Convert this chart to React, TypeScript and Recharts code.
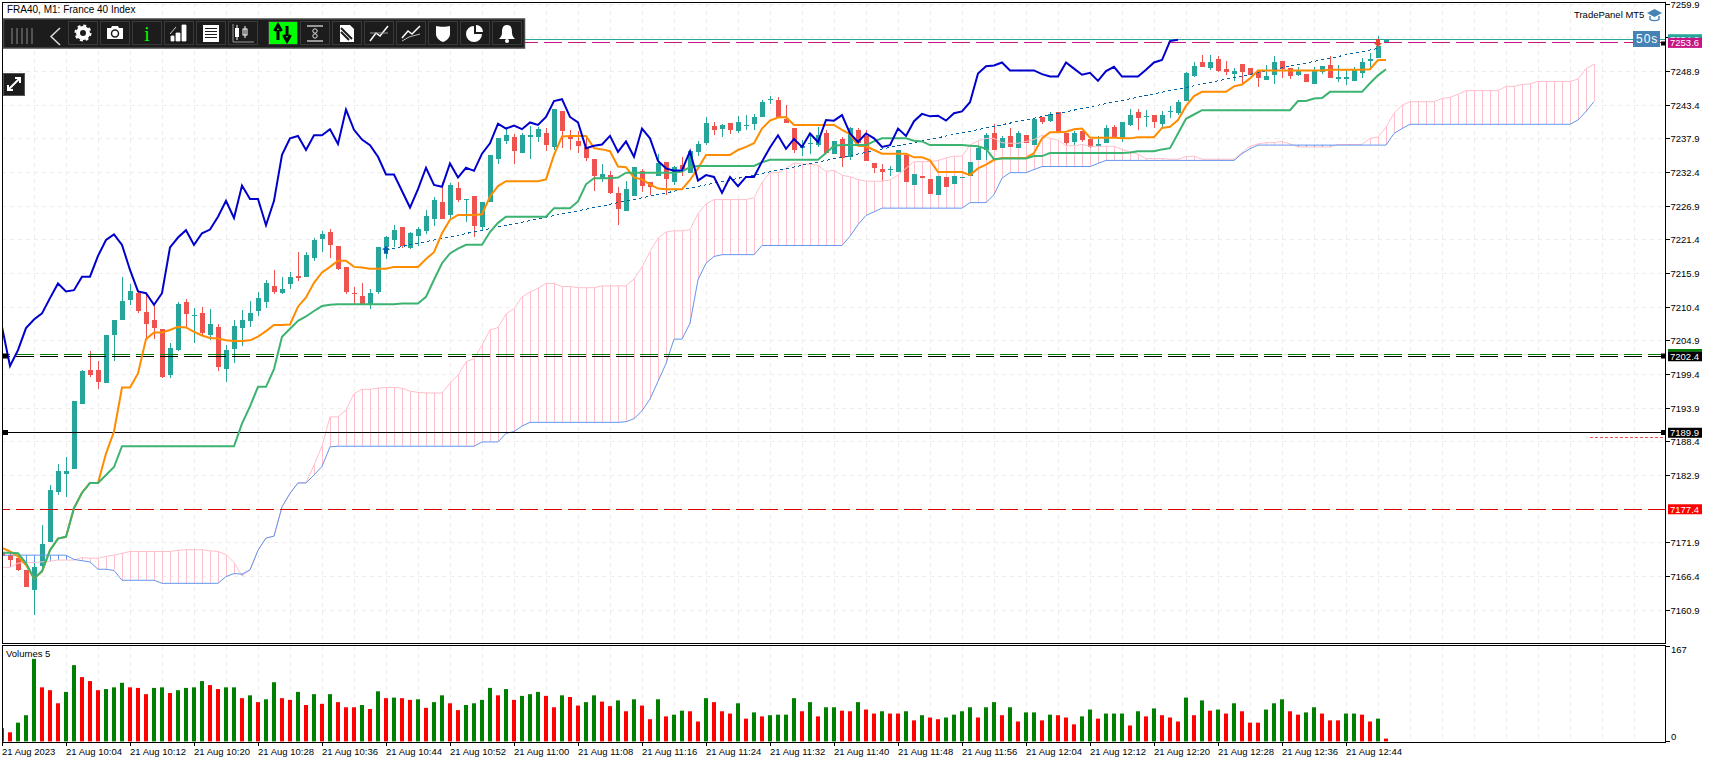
import React from "react";
import {
  Bar,
  CartesianGrid,
  Cell,
  ComposedChart,
  Line,
  ReferenceDot,
  ReferenceLine,
  XAxis,
  YAxis,
} from "recharts";

// candles, one per minute from 09:56
const opens = [
  7170.2, 7169.9, 7169.4, 7167.5, 7164.2, 7168.2, 7172.1, 7180.3, 7183.2, 7184.0,
  7194.6, 7200.1, 7200.1, 7198.0, 7205.9, 7208.3, 7211.6, 7212.8, 7209.6, 7208.3,
  7206.8, 7199.3, 7203.4, 7211.3, 7209.0, 7209.5, 7205.9, 7207.2, 7200.3, 7203.6,
  7207.0, 7208.2, 7209.8, 7211.3, 7213.9, 7212.7, 7214.2, 7215.5, 7215.4, 7218.5,
  7221.6, 7222.7, 7220.4, 7217.0, 7212.7, 7212.2, 7210.8, 7212.9, 7220.2, 7221.4,
  7223.5, 7220.1, 7222.0, 7222.9, 7224.8, 7227.6, 7225.5, 7229.9, 7227.9, 7228.6,
  7223.5, 7227.6, 7234.6, 7237.6, 7238.2, 7235.6, 7238.3, 7238.2, 7238.9, 7236.6,
  7242.5, 7238.3, 7237.6, 7236.6, 7234.6, 7231.5, 7232.0, 7229.1, 7226.1, 7228.6,
  7232.7, 7230.9, 7231.9, 7234.1, 7230.9, 7233.6, 7232.3, 7235.8, 7237.2, 7240.0,
  7239.5, 7240.5, 7239.2, 7240.0, 7240.3, 7241.5, 7244.2, 7244.3, 7241.2, 7239.7,
  7236.4, 7237.0, 7236.9, 7238.9, 7235.4, 7237.9, 7235.0, 7239.4, 7238.4, 7234.0,
  7233.0, 7232.9, 7232.5, 7235.3, 7230.4, 7231.9, 7231.4, 7228.8, 7231.7, 7230.6,
  7231.6, 7231.9, 7234.5, 7236.1, 7238.9, 7236.4, 7238.4, 7236.4, 7238.6, 7236.9,
  7241.5, 7240.9, 7242.3, 7238.9, 7237.4, 7239.2, 7237.9, 7236.8, 7237.3, 7239.9,
  7238.1, 7240.2, 7242.3, 7241.6, 7241.9, 7240.3, 7242.4, 7242.1, 7244.1, 7248.2,
  7250.4, 7249.5, 7250.9, 7249.3, 7248.5, 7250.1, 7249.5, 7249.0, 7247.5, 7248.3,
  7250.6, 7249.5, 7248.3, 7248.5, 7246.9, 7248.8, 7250.0, 7247.7, 7247.7, 7247.4,
  7248.7, 7250.6, 7251.1, 7253.6,
];
const closes = [
  7169.8, 7169.1, 7167.5, 7164.7, 7167.9, 7171.8, 7180.5, 7183.6, 7183.6, 7195.1,
  7200.0, 7199.4, 7198.2, 7205.9, 7208.4, 7211.4, 7213.1, 7209.8, 7207.7, 7207.0,
  7199.0, 7203.7, 7210.9, 7209.3, 7209.1, 7206.2, 7207.7, 7200.7, 7203.4, 7207.3,
  7208.4, 7209.5, 7211.9, 7214.4, 7212.9, 7213.4, 7215.4, 7215.2, 7218.9, 7221.4,
  7222.4, 7220.6, 7216.7, 7212.9, 7212.5, 7210.9, 7212.7, 7220.2, 7221.9, 7223.0,
  7220.4, 7222.5, 7223.2, 7225.3, 7227.9, 7224.8, 7230.4, 7227.9, 7228.1, 7223.7,
  7227.6, 7235.3, 7238.1, 7238.6, 7235.9, 7238.6, 7238.6, 7239.5, 7236.9, 7242.8,
  7239.2, 7237.9, 7236.8, 7234.8, 7231.9, 7232.2, 7229.1, 7226.5, 7229.7, 7233.3,
  7230.2, 7230.1, 7234.0, 7231.4, 7233.3, 7233.0, 7235.9, 7237.1, 7240.5, 7239.4,
  7240.2, 7239.4, 7240.7, 7240.2, 7241.5, 7243.9, 7244.4, 7241.5, 7240.5, 7236.1,
  7236.8, 7237.2, 7238.6, 7235.6, 7237.6, 7234.8, 7239.7, 7237.3, 7234.3, 7233.2,
  7232.5, 7233.0, 7236.1, 7230.9, 7232.2, 7231.6, 7228.9, 7231.9, 7230.1, 7231.9,
  7231.7, 7234.2, 7236.4, 7238.6, 7236.1, 7238.1, 7236.6, 7238.9, 7237.3, 7241.2,
  7240.7, 7242.0, 7238.9, 7237.3, 7238.9, 7237.7, 7236.6, 7237.1, 7239.7, 7238.1,
  7240.7, 7241.9, 7241.3, 7241.7, 7240.7, 7241.9, 7242.5, 7243.9, 7248.6, 7249.8,
  7249.6, 7250.4, 7249.0, 7248.8, 7249.0, 7248.8, 7248.3, 7247.8, 7248.2, 7250.4,
  7249.3, 7248.2, 7249.0, 7247.2, 7249.0, 7249.8, 7247.8, 7248.0, 7248.0, 7249.2,
  7250.4, 7250.9, 7253.1, 7254.2,
];
const highs = [
  7170.6, 7170.2, 7169.8, 7167.5, 7168.6, 7174.8, 7181.4, 7184.8, 7186.0, 7195.1,
  7200.1, 7203.3, 7201.6, 7205.9, 7208.4, 7215.3, 7214.2, 7213.2, 7212.7, 7210.8,
  7206.8, 7204.5, 7211.2, 7211.8, 7210.3, 7210.4, 7210.1, 7207.7, 7204.2, 7208.4,
  7210.0, 7211.5, 7212.9, 7214.9, 7216.5, 7215.4, 7216.2, 7219.4, 7219.5, 7221.7,
  7222.9, 7223.2, 7220.4, 7217.0, 7213.7, 7214.4, 7213.4, 7220.2, 7222.0, 7223.9,
  7223.5, 7222.7, 7223.5, 7226.3, 7228.4, 7230.9, 7230.7, 7230.9, 7228.1, 7228.6,
  7227.6, 7235.3, 7238.1, 7239.9, 7238.7, 7238.8, 7240.0, 7239.8, 7239.7, 7242.8,
  7242.5, 7239.4, 7239.2, 7238.3, 7234.6, 7233.8, 7232.7, 7230.1, 7231.0, 7233.3,
  7233.0, 7230.9, 7235.4, 7234.1, 7233.5, 7235.0, 7236.1, 7237.6, 7241.5, 7240.6,
  7240.3, 7240.5, 7241.7, 7241.8, 7242.0, 7244.3, 7244.9, 7244.8, 7243.4, 7239.7,
  7237.7, 7238.8, 7239.9, 7239.4, 7237.6, 7238.2, 7239.9, 7239.7, 7239.4, 7234.0,
  7233.8, 7233.5, 7236.1, 7235.3, 7232.2, 7231.9, 7231.4, 7231.9, 7231.7, 7231.9,
  7231.7, 7234.2, 7236.7, 7238.9, 7240.4, 7238.4, 7239.7, 7239.2, 7238.6, 7241.3,
  7241.5, 7242.3, 7242.3, 7238.9, 7239.2, 7239.2, 7237.9, 7238.4, 7240.2, 7240.2,
  7240.7, 7242.8, 7242.8, 7242.6, 7241.9, 7242.4, 7243.3, 7244.2, 7248.8, 7250.4,
  7251.6, 7251.6, 7251.4, 7250.6, 7249.5, 7250.1, 7249.5, 7249.2, 7250.0, 7251.4,
  7250.6, 7249.5, 7249.7, 7248.5, 7249.7, 7249.8, 7251.4, 7250.0, 7249.2, 7249.7,
  7251.1, 7251.9, 7254.7, 7254.2,
];
const lows = [
  7169.4, 7168.0, 7167.3, 7164.7, 7160.1, 7167.2, 7172.1, 7179.7, 7179.5, 7184.0,
  7194.6, 7199.1, 7197.0, 7198.0, 7201.7, 7208.3, 7210.8, 7209.5, 7205.1, 7205.3,
  7198.8, 7198.8, 7203.2, 7207.0, 7204.6, 7205.6, 7205.0, 7200.0, 7198.1, 7201.4,
  7204.1, 7207.3, 7209.0, 7210.4, 7212.5, 7212.7, 7213.4, 7214.7, 7215.4, 7218.0,
  7219.4, 7218.5, 7216.4, 7212.6, 7210.9, 7210.9, 7210.1, 7212.6, 7218.3, 7220.3,
  7220.0, 7220.0, 7220.4, 7222.4, 7223.7, 7224.8, 7224.7, 7227.7, 7224.3, 7221.9,
  7222.9, 7227.6, 7233.8, 7237.1, 7233.8, 7235.6, 7234.6, 7237.4, 7235.9, 7236.1,
  7236.4, 7236.1, 7235.6, 7234.3, 7229.4, 7230.9, 7228.9, 7223.9, 7226.1, 7228.6,
  7229.2, 7228.7, 7231.9, 7228.7, 7230.4, 7231.9, 7232.3, 7235.1, 7236.9, 7238.4,
  7238.1, 7238.7, 7239.0, 7239.4, 7239.4, 7241.5, 7243.6, 7241.3, 7240.5, 7235.6,
  7235.1, 7235.4, 7236.6, 7235.6, 7235.4, 7233.3, 7234.5, 7237.1, 7234.3, 7232.4,
  7231.1, 7231.9, 7232.5, 7230.9, 7230.4, 7231.6, 7228.9, 7228.8, 7230.1, 7230.6,
  7231.5, 7231.9, 7234.5, 7234.5, 7236.1, 7236.4, 7236.6, 7236.4, 7237.3, 7236.9,
  7240.4, 7240.7, 7238.9, 7236.9, 7236.9, 7237.4, 7236.4, 7236.8, 7237.3, 7238.1,
  7237.4, 7240.0, 7239.3, 7239.8, 7239.8, 7239.8, 7241.3, 7241.8, 7244.1, 7248.0,
  7249.6, 7249.2, 7248.8, 7248.3, 7247.3, 7247.0, 7248.3, 7246.4, 7247.5, 7246.9,
  7247.8, 7247.7, 7248.3, 7247.2, 7246.9, 7248.5, 7247.8, 7247.2, 7246.7, 7247.4,
  7247.8, 7249.2, 7251.1, 7253.6,
];

// ichimoku lines
const tenkan = [
  7171.1, 7170.5, 7169.7, 7168.3, 7166.1, 7167.2, 7170.7, 7172.6, 7172.9, 7177.6,
  7180.1, 7181.7, 7181.7, 7186.5, 7190.1, 7197.3, 7197.3, 7199.6, 7205.2, 7206.3,
  7206.3, 7206.7, 7207.2, 7207.1, 7206.4, 7205.8, 7205.4, 7205.3, 7205.0, 7204.9,
  7204.9, 7205.0, 7205.6, 7206.5, 7207.5, 7207.5, 7207.6, 7210.5, 7212.0, 7214.4,
  7216.1, 7217.0, 7218.0, 7218.0, 7217.0, 7216.9, 7216.7, 7216.7, 7216.7, 7217.0,
  7217.0, 7217.0, 7217.0, 7218.3, 7219.4, 7222.5, 7224.7, 7225.5, 7225.5, 7225.5,
  7225.6, 7228.5, 7230.2, 7231.0, 7231.0, 7231.0, 7231.0, 7231.0, 7231.3, 7235.3,
  7238.3, 7238.4, 7238.4, 7238.4, 7236.4, 7236.2, 7235.9, 7233.4, 7233.3, 7231.6,
  7231.3, 7230.5, 7229.8, 7229.7, 7229.7, 7229.7, 7231.2, 7233.1, 7235.3, 7235.3,
  7235.3, 7235.3, 7236.1, 7236.6, 7237.2, 7239.6, 7240.9, 7241.4, 7241.5, 7240.2,
  7240.2, 7240.2, 7240.2, 7240.2, 7240.2, 7239.4, 7238.7, 7236.8, 7236.7, 7236.1,
  7235.5, 7235.5, 7235.5, 7235.5, 7234.9, 7234.9, 7234.4, 7232.5, 7232.5, 7232.5,
  7232.5, 7232.0, 7233.1, 7233.7, 7234.5, 7234.8, 7234.8, 7234.8, 7234.8, 7235.6,
  7238.0, 7239.0, 7239.0, 7239.1, 7239.5, 7239.6, 7238.1, 7238.1, 7238.1, 7238.1,
  7238.0, 7238.0, 7238.2, 7238.2, 7238.2, 7239.7, 7239.9, 7241.0, 7243.3, 7244.9,
  7245.6, 7245.6, 7245.6, 7245.6, 7246.5, 7246.8, 7247.8, 7249.1, 7249.1, 7249.1,
  7249.1, 7249.1, 7249.1, 7249.1, 7249.1, 7249.1, 7249.2, 7249.2, 7249.2, 7249.2,
  7249.2, 7249.3, 7250.8, 7250.8,
];
const kijun = [
  7170.3, 7170.3, 7170.2, 7168.6, 7166.1, 7167.3, 7170.7, 7172.6, 7172.9, 7177.6,
  7180.1, 7181.7, 7181.7, 7183.0, 7184.3, 7187.7, 7187.7, 7187.7, 7187.7, 7187.7,
  7187.7, 7187.7, 7187.7, 7187.7, 7187.7, 7187.7, 7187.7, 7187.7, 7187.7, 7187.7,
  7191.4, 7194.2, 7197.4, 7197.4, 7200.3, 7205.6, 7206.9, 7208.2, 7208.9, 7209.8,
  7210.6, 7210.8, 7210.9, 7210.9, 7210.9, 7210.9, 7210.9, 7210.9, 7210.9, 7210.9,
  7211.0, 7211.0, 7211.0, 7212.1, 7214.9, 7217.6, 7219.2, 7220.0, 7220.6, 7220.6,
  7220.6, 7222.7, 7224.2, 7225.2, 7225.2, 7225.2, 7225.2, 7225.2, 7225.2, 7226.6,
  7226.6, 7226.6, 7227.7, 7230.5, 7231.5, 7231.5, 7231.5, 7231.6, 7232.4, 7232.4,
  7232.4, 7232.4, 7232.4, 7232.4, 7232.4, 7232.6, 7233.3, 7233.5, 7233.5, 7233.5,
  7233.5, 7233.5, 7233.5, 7233.5, 7233.5, 7234.1, 7234.5, 7234.5, 7234.5, 7234.5,
  7234.5, 7234.5, 7234.5, 7235.6, 7236.8, 7236.9, 7236.9, 7236.9, 7236.9, 7237.5,
  7238.0, 7238.0, 7238.0, 7238.0, 7237.6, 7237.5, 7236.9, 7236.9, 7236.9, 7236.9,
  7236.9, 7236.8, 7236.7, 7236.3, 7234.6, 7234.7, 7234.7, 7234.7, 7234.7, 7235.1,
  7235.1, 7235.6, 7235.6, 7235.6, 7235.6, 7235.6, 7235.6, 7235.6, 7235.6, 7235.6,
  7235.6, 7235.7, 7235.9, 7235.9, 7235.9, 7236.2, 7236.4, 7238.8, 7241.2, 7241.9,
  7242.6, 7242.6, 7242.6, 7242.6, 7242.6, 7242.6, 7242.6, 7242.6, 7242.6, 7242.6,
  7242.6, 7242.6, 7244.1, 7244.1, 7244.5, 7244.6, 7245.6, 7245.6, 7245.6, 7245.6,
  7245.6, 7247.0, 7248.3, 7249.3,
];
const chikou = [
  7207.2, 7200.8, 7203.4, 7207.0, 7208.4, 7209.4, 7211.9, 7214.3, 7213.0, 7213.2,
  7215.4, 7215.4, 7218.8, 7221.4, 7222.3, 7220.6, 7216.5, 7213.0, 7212.7, 7210.8,
  7212.7, 7220.2, 7221.8, 7223.0, 7220.6, 7222.5, 7223.1, 7225.2, 7227.8, 7225.0,
  7230.3, 7228.1, 7228.1, 7223.8, 7227.8, 7235.3, 7238.0, 7238.4, 7236.1, 7238.5,
  7238.5, 7239.5, 7237.1, 7242.7, 7239.4, 7237.8, 7236.9, 7235.0, 7232.1, 7232.1,
  7229.4, 7226.7, 7229.7, 7233.2, 7230.4, 7230.1, 7233.9, 7231.6, 7233.2, 7232.7,
  7235.5, 7237.2, 7240.4, 7239.6, 7240.1, 7239.5, 7240.6, 7240.2, 7241.5, 7244.1,
  7244.4, 7241.5, 7240.6, 7236.4, 7236.8, 7237.0, 7238.4, 7235.8, 7237.5, 7235.0,
  7239.6, 7238.0, 7234.3, 7233.1, 7232.7, 7232.8, 7235.9, 7231.1, 7232.0, 7231.7,
  7229.1, 7231.7, 7230.2, 7231.7, 7231.7, 7234.2, 7236.5, 7238.5, 7236.3, 7237.9,
  7236.6, 7238.8, 7237.4, 7241.0, 7240.9, 7241.8, 7238.8, 7237.4, 7238.8, 7238.0,
  7236.6, 7236.9, 7239.6, 7238.4, 7240.8, 7242.0, 7241.6, 7241.7, 7240.9, 7242.1,
  7242.4, 7243.9, 7248.6, 7249.8, 7249.9, 7250.4, 7249.1, 7249.1, 7249.1, 7249.1,
  7248.5, 7248.1, 7248.1, 7250.4, 7249.4, 7248.4, 7248.7, 7247.4, 7249.0, 7249.7,
  7248.1, 7248.1, 7248.1, 7249.2, 7250.4, 7250.8, 7253.9, 7254.1,
];
const spanA = [
  7167.9, 7167.9, 7168.6, 7168.7, 7168.7, 7168.8, 7168.9, 7169.1, 7169.1, 7169.1,
  7169.5, 7169.4, 7169.4, 7169.7, 7169.9, 7170.2, 7170.5, 7170.5, 7170.5, 7170.5,
  7170.5, 7170.5, 7170.7, 7170.8, 7170.8, 7170.8, 7170.6, 7170.5, 7170.0, 7168.7,
  7166.5, 7167.5, 7170.7, 7172.7, 7173.0, 7177.8, 7180.0, 7181.7, 7181.7, 7184.6,
  7187.7, 7192.5, 7192.5, 7193.6, 7196.3, 7197.0, 7197.0, 7197.2, 7197.3, 7197.3,
  7197.2, 7196.7, 7196.5, 7196.4, 7196.4, 7196.4, 7198.0, 7199.3, 7201.5, 7202.0,
  7204.2, 7206.7, 7207.1, 7209.3, 7210.2, 7212.1, 7212.9, 7213.5, 7214.3, 7214.3,
  7213.8, 7213.8, 7213.6, 7213.6, 7213.6, 7213.9, 7213.9, 7213.9, 7213.9, 7215.0,
  7217.0, 7219.5, 7221.7, 7222.7, 7222.9, 7222.9, 7223.1, 7225.7, 7227.3, 7228.0,
  7228.0, 7228.0, 7228.0, 7228.0, 7228.3, 7230.8, 7232.4, 7232.4, 7233.1, 7234.0,
  7233.8, 7233.8, 7233.6, 7232.6, 7232.8, 7232.0, 7231.7, 7231.3, 7231.0, 7231.0,
  7231.0, 7231.2, 7232.0, 7233.1, 7234.2, 7234.2, 7234.2, 7234.4, 7234.8, 7235.1,
  7235.1, 7236.9, 7237.6, 7238.0, 7238.0, 7237.3, 7237.2, 7237.2, 7237.5, 7237.8,
  7238.5, 7238.0, 7237.7, 7236.8, 7236.8, 7237.0, 7236.7, 7236.7, 7236.7, 7236.7,
  7236.2, 7235.8, 7235.4, 7234.7, 7234.7, 7234.7, 7234.6, 7234.6, 7235.0, 7235.1,
  7234.6, 7234.6, 7234.6, 7234.6, 7234.6, 7235.7, 7236.7, 7237.1, 7237.3, 7237.3,
  7237.5, 7237.1, 7236.6, 7236.6, 7236.6, 7236.6, 7236.6, 7237.0, 7237.0, 7237.0,
  7237.0, 7238.0, 7238.2, 7239.8, 7242.1, 7243.4, 7244.0, 7244.0, 7244.0, 7244.0,
  7244.5, 7244.7, 7245.2, 7245.8, 7245.8, 7245.8, 7245.8, 7245.8, 7246.5, 7246.5,
  7246.8, 7246.9, 7247.3, 7247.3, 7247.3, 7247.3, 7247.3, 7247.7, 7249.4, 7250.1,
];
const spanB = [
  7169.9, 7169.9, 7169.9, 7169.9, 7169.9, 7169.9, 7169.9, 7169.9, 7169.9, 7169.2,
  7169.0, 7168.8, 7167.6, 7167.6, 7167.4, 7165.8, 7165.8, 7165.8, 7165.8, 7165.8,
  7165.3, 7165.3, 7165.3, 7165.3, 7165.3, 7165.3, 7165.3, 7165.3, 7166.4, 7166.9,
  7166.8, 7167.5, 7170.7, 7172.7, 7173.0, 7177.8, 7180.0, 7181.7, 7181.7, 7183.0,
  7184.4, 7187.6, 7187.7, 7187.7, 7187.7, 7187.7, 7187.7, 7187.7, 7187.7, 7187.7,
  7187.7, 7187.7, 7187.7, 7187.7, 7187.7, 7187.7, 7187.7, 7187.7, 7187.7, 7187.7,
  7188.4, 7188.4, 7188.4, 7189.8, 7190.1, 7191.0, 7191.6, 7191.6, 7191.6, 7191.6,
  7191.6, 7191.6, 7191.6, 7191.6, 7191.6, 7191.6, 7191.6, 7191.6, 7191.7, 7192.2,
  7193.5, 7195.4, 7198.3, 7201.2, 7205.2, 7205.2, 7207.8, 7214.9, 7217.6, 7218.7,
  7219.0, 7219.0, 7219.0, 7219.0, 7219.0, 7220.5, 7220.5, 7220.5, 7220.5, 7220.5,
  7220.5, 7220.5, 7220.5, 7220.5, 7220.5, 7220.5, 7222.0, 7223.9, 7225.4, 7226.0,
  7226.6, 7226.6, 7226.6, 7226.6, 7226.6, 7226.6, 7226.6, 7226.6, 7226.6, 7226.6,
  7226.6, 7227.5, 7227.5, 7227.5, 7228.8, 7231.5, 7232.4, 7232.4, 7232.4, 7232.9,
  7233.4, 7233.4, 7233.4, 7233.4, 7233.4, 7233.4, 7233.4, 7233.9, 7234.4, 7234.4,
  7234.4, 7234.4, 7234.4, 7234.4, 7234.4, 7234.4, 7234.4, 7234.4, 7234.4, 7234.4,
  7234.4, 7234.4, 7234.4, 7234.4, 7234.4, 7235.5, 7236.3, 7236.9, 7236.9, 7236.9,
  7236.9, 7236.9, 7236.9, 7236.9, 7236.9, 7236.9, 7236.9, 7236.9, 7236.9, 7236.9,
  7236.9, 7236.9, 7236.9, 7236.9, 7238.8, 7239.6, 7240.3, 7240.3, 7240.3, 7240.3,
  7240.3, 7240.3, 7240.3, 7240.3, 7240.3, 7240.3, 7240.3, 7240.3, 7240.3, 7240.3,
  7240.3, 7240.3, 7240.3, 7240.3, 7240.3, 7240.3, 7240.3, 7241.0, 7242.4, 7244.0,
];
const volumes = [
  23, 16, 33, 46, 145, 95, 90, 67, 87, 134,
  113, 106, 90, 92, 95, 103, 95, 94, 83, 94,
  95, 85, 90, 94, 95, 106, 99, 92, 95, 95,
  76, 81, 69, 74, 104, 76, 73, 87, 64, 83,
  66, 83, 69, 60, 60, 64, 57, 88, 76, 77,
  76, 73, 74, 59, 69, 81, 67, 55, 64, 67,
  73, 94, 81, 92, 73, 80, 83, 87, 80, 60,
  81, 78, 63, 69, 81, 70, 62, 72, 53, 74,
  63, 39, 74, 44, 47, 54, 53, 35, 76, 69,
  53, 49, 67, 40, 51, 44, 46, 47, 47, 76,
  53, 69, 44, 60, 60, 54, 53, 69, 56, 49,
  53, 49, 49, 53, 37, 46, 42, 39, 42, 47,
  53, 60, 42, 60, 69, 46, 60, 35, 51, 51,
  37, 47, 46, 42, 30, 44, 56, 40, 49, 49,
  49, 28, 53, 44, 58, 46, 42, 35, 77, 46,
  72, 54, 56, 49, 67, 53, 33, 33, 56, 67,
  74, 53, 47, 51, 60, 49, 37, 37, 49, 49,
  47, 35, 40, 5,
];

// 7254.4 sits behind the price flags, only its tick mark shows
const priceTicks = [
  7259.9, 7254.4, 7248.9, 7243.4, 7237.9, 7232.4, 7226.9, 7221.4, 7215.9, 7210.4,
  7204.9, 7199.4, 7193.9, 7188.4, 7182.9, 7171.9, 7166.4, 7160.9,
];
const gridPrices = [...priceTicks, 7177.4];
const volumeTicks = [0, 167];
const timeTicks = [
  0, 8, 16, 24, 32, 40, 48, 56, 64, 72, 80, 88, 96, 104, 112, 120, 128, 136, 144, 152, 160, 168,
];
const timeLabels = [
  "21 Aug 2023", "21 Aug 10:04", "21 Aug 10:12", "21 Aug 10:20", "21 Aug 10:28", "21 Aug 10:36",
  "21 Aug 10:44", "21 Aug 10:52", "21 Aug 11:00", "21 Aug 11:08", "21 Aug 11:16", "21 Aug 11:24",
  "21 Aug 11:32", "21 Aug 11:40", "21 Aug 11:48", "21 Aug 11:56", "21 Aug 12:04", "21 Aug 12:12",
  "21 Aug 12:20", "21 Aug 12:28", "21 Aug 12:36", "21 Aug 12:44",
];
const gridBars = [
  4, 8, 12, 16, 20, 24, 28, 32, 36, 40, 44, 48, 52, 56, 60, 64, 68, 72, 76, 80, 84, 88, 92, 96,
  100, 104, 108, 112, 116, 120, 124, 128, 132, 136, 140, 144, 148, 152, 156, 160, 164, 168, 172,
  176, 180, 184, 188, 192, 196, 200, 204,
];

// price flags on the right hand axis, drawn on top of the normal ticks
const priceFlags = [
  { price: 7254.2, text: "7254.2", fill: "#26A69A" },
  { price: 7253.6, text: "7253.6", fill: "#C71585" },
  { price: 7202.4, text: "7202.4", fill: "#000000" },
  { price: 7189.9, text: "7189.9", fill: "#000000" },
  { price: 7177.4, text: "7177.4", fill: "#FF0000" },
];

const FONT = "'Liberation Sans', Arial, sans-serif";
const UP = "#26A69A";
const DOWN = "#EF5350";
const BARS = 208;

const rows = spanA.map((_, i) => ({
  i,
  open: opens[i],
  high: highs[i],
  low: lows[i],
  close: closes[i],
  tenkan: tenkan[i],
  kijun: kijun[i],
  chikou: chikou[i],
  spanA: spanA[i],
  spanB: spanB[i],
}));
const volumeRows = volumes.map((v, i) => ({ i, v }));

// same as the terminal: colour follows the change against the previous bar
const volumeColors: string[] = [];
volumes.forEach((v, i) => {
  if (i === 0) volumeColors.push("#FF0000");
  else if (v > volumes[i - 1]) volumeColors.push("#008000");
  else if (v < volumes[i - 1]) volumeColors.push("#FF0000");
  else volumeColors.push(volumeColors[i - 1]);
});

const Candle = (props: any) => {
  const { x, y, width, height, payload } = props;
  if (payload.high == null) return null;
  const perUnit = height / Math.max(payload.high - payload.low, 0.01);
  const top = Math.round(y + (payload.high - Math.max(payload.open, payload.close)) * perUnit);
  const bottom = Math.round(y + (payload.high - Math.min(payload.open, payload.close)) * perUnit);
  const color = payload.close >= payload.open ? UP : DOWN;
  const mid = Math.round(x + width / 2);
  return (
    <g>
      <rect x={mid} y={Math.round(y)} width={1} height={Math.max(Math.round(height), 1)} fill={color} />
      <rect x={mid - 2} y={top} width={5} height={Math.max(bottom - top, 1)} fill={color} />
    </g>
  );
};

const Hatch = (props: any) => {
  const { x, y, width, height, payload } = props;
  if (!height || height < 1) return null;
  return (
    <rect
      x={Math.round(x + width / 2)}
      y={Math.round(y)}
      width={1}
      height={Math.round(height)}
      fill={payload.spanA >= payload.spanB ? "#FFC0CB" : "#6495ED"}
    />
  );
};

const PriceTick = (props: any) => {
  const { x, y, payload } = props;
  const flag = priceFlags.find((f) => f.price === payload.value);
  if (flag) {
    return (
      <g>
        <rect x={x + 2} y={y - 5} width={34} height={10} fill={flag.fill} />
        <text x={x + 4} y={y + 3.5} fontSize={9.5} fontFamily={FONT} fill="#fff">
          {flag.text}
        </text>
      </g>
    );
  }
  return (
    <g>
      <line x1={x} x2={x + 4} y1={y} y2={y} stroke="#000" shapeRendering="crispEdges" />
      {payload.value !== 7254.4 && (
        <text x={x + 4.5} y={y + 3.5} fontSize={9.5} fontFamily={FONT} fill="#000">
          {payload.value.toFixed(1)}
        </text>
      )}
    </g>
  );
};

const VolumeTick = (props: any) => {
  const { x, y, payload } = props;
  const shift = payload.value === 0 ? -1 : 7;
  return (
    <g>
      <line x1={x} x2={x + 4} y1={y} y2={y} stroke="#000" shapeRendering="crispEdges" />
      <text x={x + 5} y={y + shift} fontSize={9.5} fontFamily={FONT} fill="#000">
        {payload.value}
      </text>
    </g>
  );
};

const TimeTick = (props: any) => {
  const { x, y, payload, index } = props;
  return (
    <g>
      <line x1={x} x2={x} y1={y} y2={y + 4} stroke="#000" shapeRendering="crispEdges" />
      <text x={x} y={y + 13} fontSize={9.5} fontFamily={FONT} fill="#000">
        {timeLabels[index]}
      </text>
    </g>
  );
};

const Btn = ({ x, green, children }: any) => (
  <g transform={`translate(${x},21)`}>
    <rect x={0.5} y={0.5} width={29} height={23} fill={green ? "#00FF00" : "#1C1C1C"} stroke="#3A3A3A" />
    {children}
  </g>
);

const Toolbar = () => (
  <svg
    width={530}
    height={100}
    style={{ position: "absolute", left: 0, top: 0, zIndex: 5 }}
  >
    <rect x={3.5} y={19} width={521} height={29} fill="#1C1C1C" stroke="#484848" strokeWidth={1.5} />
    {[12, 17, 22, 27, 32].map((x) => (
      <line key={x} x1={x} x2={x} y1={28} y2={44} stroke="#8A8A8A" />
    ))}
    <path d="M60 28 L51 36.5 L60 45" fill="none" stroke="#ddd" strokeWidth={1.5} />
    <Btn x={68}>
      <circle cx={15} cy={12} r={5} fill="none" stroke="#fff" strokeWidth={4} />
      <circle cx={15} cy={12} r={7.5} fill="none" stroke="#fff" strokeWidth={2} strokeDasharray="3 2.9" />
    </Btn>
    <Btn x={100}>
      <path d="M7 7 H11 L12 5 H18 L19 7 H23 V18 H7 Z" fill="#fff" />
      <circle cx={15} cy={12.5} r={3.5} fill="none" stroke="#1C1C1C" strokeWidth={1.5} />
    </Btn>
    <Btn x={132}>
      <text x={15} y={20} textAnchor="middle" fontSize={20} fontFamily="'Liberation Serif', serif" fill="#00FF00">i</text>
    </Btn>
    <Btn x={164}>
      <path d="M7 20 h3 v-5 h-3 z M12 20 h4 v-8 h-4 z M18 20 h4 V4 h-4 z M6 13 L12 6" fill="#fff" stroke="#fff" strokeWidth={0.8} />
    </Btn>
    <Btn x={196}>
      <rect x={7} y={4} width={16} height={17} fill="#fff" />
      {[7, 10, 13, 16].map((y) => (
        <line key={y} x1={9} x2={21} y1={y + 0.5} y2={y + 0.5} stroke="#1C1C1C" />
      ))}
    </Btn>
    <Btn x={228}>
      <rect x={7} y={7} width={4} height={9} fill="#fff" />
      <line x1={9} x2={9} y1={4} y2={19} stroke="#fff" />
      <rect x={15} y={8} width={4} height={6} fill="none" stroke="#fff" />
      <line x1={17} x2={17} y1={5} y2={17} stroke="#fff" />
      <path d="M5 3 V21 H26" fill="none" stroke="#999" />
    </Btn>
    <Btn x={268} green>
      <path d="M10 19 V9 M6.5 10 L10 4 L13.5 10" stroke="#000" strokeWidth={3} fill="none" />
      <path d="M19 5 V15 M15.5 14 L19 20 L22.5 14" stroke="#000" strokeWidth={3} fill="none" />
    </Btn>
    <Btn x={300}>
      <rect x={7} y={4} width={16} height={2} fill="#999" />
      <rect x={7} y={19} width={16} height={2} fill="#999" />
      <circle cx={15} cy={10} r={2.2} fill="none" stroke="#ddd" />
      <circle cx={15} cy={15} r={2.2} fill="none" stroke="#ddd" />
    </Btn>
    <Btn x={332}>
      <path d="M8 4 H18 L22 8 V21 H8 Z" fill="#fff" />
      <path d="M9 7 L20 18 M9 11 L17 19" stroke="#1C1C1C" strokeWidth={2} />
    </Btn>
    <Btn x={364}>
      <path d="M6 20 L12 12 L16 15 L24 5" fill="none" stroke="#fff" strokeWidth={1.5} />
      <path d="M6 12 H24" stroke="#999" />
    </Btn>
    <Btn x={396}>
      <path d="M6 17 L12 10 L16 13 L24 5" fill="none" stroke="#fff" strokeWidth={1.5} />
      <path d="M6 20 L13 16 L24 13" fill="none" stroke="#bbb" />
    </Btn>
    <Btn x={428}>
      <path d="M8 5 C11 6 19 6 22 5 V13 C22 17 18 20 15 21 C12 20 8 17 8 13 Z" fill="#fff" />
    </Btn>
    <Btn x={460}>
      <path d="M14 5 A8 8 0 1 0 22 13 H14 Z" fill="#fff" />
      <path d="M16 4 A7 7 0 0 1 23 11 H16 Z" fill="#fff" />
    </Btn>
    <Btn x={492}>
      <path d="M15 4 C10 4 10 9 10 12 C10 15 8 17 7 18 H23 C22 17 20 15 20 12 C20 9 20 4 15 4 Z" fill="#fff" />
      <circle cx={15} cy={20} r={2} fill="#fff" />
    </Btn>
    {/* expand button */}
    <rect x={3.5} y={73.5} width={21} height={22} fill="#1C1C1C" stroke="#555" />
    <path
      d="M8 90 L20 78 M15 78 H20 V83 M8 85 V90 H13"
      fill="none"
      stroke="#fff"
      strokeWidth={2}
    />
  </svg>
);

const Overlay = () => (
  <svg
    width={1713}
    height={763}
    style={{ position: "absolute", left: 0, top: 0, zIndex: 4, pointerEvents: "none" }}
  >
    <text x={7} y={13} fontSize={10} fontFamily={FONT} fill="#000">
      FRA40, M1:  France 40 Index
    </text>
    <text x={6} y={657} fontSize={9.5} fontFamily={FONT} fill="#000">
      Volumes 5
    </text>
    <text x={1574} y={18} fontSize={9.5} fontFamily={FONT} fill="#000">
      TradePanel MT5
    </text>
    <path d="M1647 13 L1654.5 9 L1662 13 L1654.5 17 Z" fill="#4682B4" />
    <path d="M1650 16 V19.5 C1652 21 1657 21 1659 19.5 V16" fill="none" stroke="#4682B4" strokeWidth={1.4} />
    <rect x={1633} y={31} width={27} height={16} fill="#4682B4" />
    <text x={1636} y={43} fontSize={12} letterSpacing={1} fontFamily={FONT} fill="#fff">
      50s
    </text>
    {/* line anchors */}
    <rect x={1661} y={41.5} width={4} height={4} fill="#000" />
    <rect x={3} y={353.5} width={5} height={5} fill="#000" />
    <rect x={1661} y={353.5} width={5} height={5} fill="#000" />
    <rect x={3} y={430} width={5} height={5} fill="#000" />
    <rect x={1661} y={430} width={5} height={5} fill="#000" />
    <rect x={1668} y={349} width={34} height={2.5} fill="#008000" />
  </svg>
);

const ArrowUp = (props: any) => (
  <path
    d={`M${props.cx} ${props.cy - 4} l4 4 h-2 v4 h-4 v-4 h-2 z`}
    fill="#0060B0"
  />
);
const ArrowDown = (props: any) => (
  <path
    d={`M${props.cx} ${props.cy + 4} l-4 -4 h2 v-4 h4 v4 h2 z`}
    fill="#E8432B"
  />
);

const App = () => {
  return (
    <div
      style={{
        position: "absolute",
        left: 0,
        top: 0,
        width: 1713,
        height: 763,
        background: "#fff",
        overflow: "hidden",
      }}
    >
      <div style={{ position: "absolute", left: 0, top: 0 }}>
        <ComposedChart
          width={1713}
          height={645}
          data={rows}
          margin={{ top: 2.5, right: 0, bottom: 1.7, left: 2 }}
        >
          <CartesianGrid
            stroke="#EDEDED"
            strokeDasharray="4 4"
            shapeRendering="crispEdges"
            horizontalValues={gridPrices}
            verticalValues={gridBars}
          />
          <XAxis dataKey="i" type="number" domain={[0, BARS]} hide allowDataOverflow ticks={timeTicks} />
          <XAxis xAxisId="cloud" dataKey="i" type="number" domain={[0, BARS]} hide allowDataOverflow ticks={timeTicks} />
          <YAxis
            orientation="right"
            type="number"
            width={47}
            domain={[7155.5, 7260.2]}
            ticks={[...priceTicks, ...priceFlags.map((f) => f.price)]}
            interval={0}
            allowDataOverflow
            axisLine={false}
            tickLine={false}
            tickSize={0}
            tickMargin={0}
            tick={<PriceTick />}
          />
          <Bar
            xAxisId="cloud"
            dataKey={(r: any) => [Math.min(r.spanA, r.spanB), Math.max(r.spanA, r.spanB)]}
            barSize={1}
            shape={<Hatch />}
            isAnimationActive={false}
          />
          <Line dataKey="spanA" stroke="#FFC0CB" strokeWidth={1} dot={false} activeDot={false} isAnimationActive={false} />
          <Line dataKey="spanB" stroke="#6495ED" strokeWidth={1} dot={false} activeDot={false} isAnimationActive={false} />
          <Bar
            dataKey={(r: any) => (r.high == null ? null : [r.low, r.high])}
            barSize={5}
            shape={<Candle />}
            isAnimationActive={false}
          />
          <ReferenceLine y={7202.75} stroke="#008000" strokeDasharray="18 6" shapeRendering="crispEdges" />
          <ReferenceLine y={7202.4} stroke="#000000" strokeDasharray="18 6" shapeRendering="crispEdges" />
          <ReferenceLine y={7189.9} stroke="#000000" shapeRendering="crispEdges" />
          <ReferenceLine y={7177.4} stroke="#E00000" strokeDasharray="18 6" shapeRendering="crispEdges" />
          <ReferenceLine y={7254.2} stroke="#26A69A" shapeRendering="crispEdges" />
          <ReferenceLine y={7253.6} stroke="#C71585" strokeDasharray="18 6" shapeRendering="crispEdges" />
          <ReferenceLine
            segment={[
              { x: 198.5, y: 7189.1 },
              { x: 207.7, y: 7189.1 },
            ]}
            stroke="#F05050"
            strokeDasharray="3 2"
            shapeRendering="crispEdges"
          />
          <ReferenceLine
            segment={[
              { x: 48, y: 7219.8 },
              { x: 172, y: 7252.7 },
            ]}
            stroke="#0060A8"
            strokeDasharray="3 3"
            shapeRendering="crispEdges"
          />
          <Line dataKey="tenkan" stroke="#FF8C00" strokeWidth={2} dot={false} activeDot={false} isAnimationActive={false} />
          <Line dataKey="kijun" stroke="#3CB371" strokeWidth={2} dot={false} activeDot={false} isAnimationActive={false} />
          <Line dataKey="chikou" stroke="#0000CD" strokeWidth={2} dot={false} activeDot={false} isAnimationActive={false} />
          <ReferenceDot x={48} y={7219.8} shape={<ArrowUp />} />
          <ReferenceDot x={172} y={7253.6} shape={<ArrowDown />} />
        </ComposedChart>
      </div>

      <div style={{ position: "absolute", left: 0, top: 643 }}>
        <ComposedChart
          width={1713}
          height={120}
          data={volumeRows}
          margin={{ top: 3, right: 0, bottom: 0, left: 2 }}
        >
          <CartesianGrid
            stroke="#EDEDED"
            strokeDasharray="4 4"
            shapeRendering="crispEdges"
            horizontal={false}
            verticalValues={gridBars}
          />
          <XAxis
            dataKey="i"
            type="number"
            domain={[0, BARS]}
            ticks={timeTicks}
            interval={0}
            allowDataOverflow
            axisLine={false}
            tickLine={false}
            tickSize={0}
            tickMargin={0}
            height={21}
            tick={<TimeTick />}
          />
          <YAxis
            orientation="right"
            type="number"
            width={47}
            domain={[-1, 167.6]}
            ticks={volumeTicks}
            interval={0}
            allowDataOverflow
            axisLine={false}
            tickLine={false}
            tickSize={0}
            tickMargin={0}
            tick={<VolumeTick />}
          />
          <Bar dataKey="v" barSize={4} isAnimationActive={false}>
            {volumeRows.map((_, i) => (
              <Cell key={i} fill={volumeColors[i]} />
            ))}
          </Bar>
        </ComposedChart>
      </div>

      {/* panel frames go over the charts so the bars stop at the border */}
      <div style={{ position: "absolute", left: 2, top: 2, width: 1664, height: 642, border: "1px solid #000", boxSizing: "border-box", pointerEvents: "none" }} />
      <div style={{ position: "absolute", left: 2, top: 645, width: 1664, height: 98, border: "1px solid #000", boxSizing: "border-box", pointerEvents: "none" }} />

      <Overlay />
      <Toolbar />
    </div>
  );
};

export default App;
